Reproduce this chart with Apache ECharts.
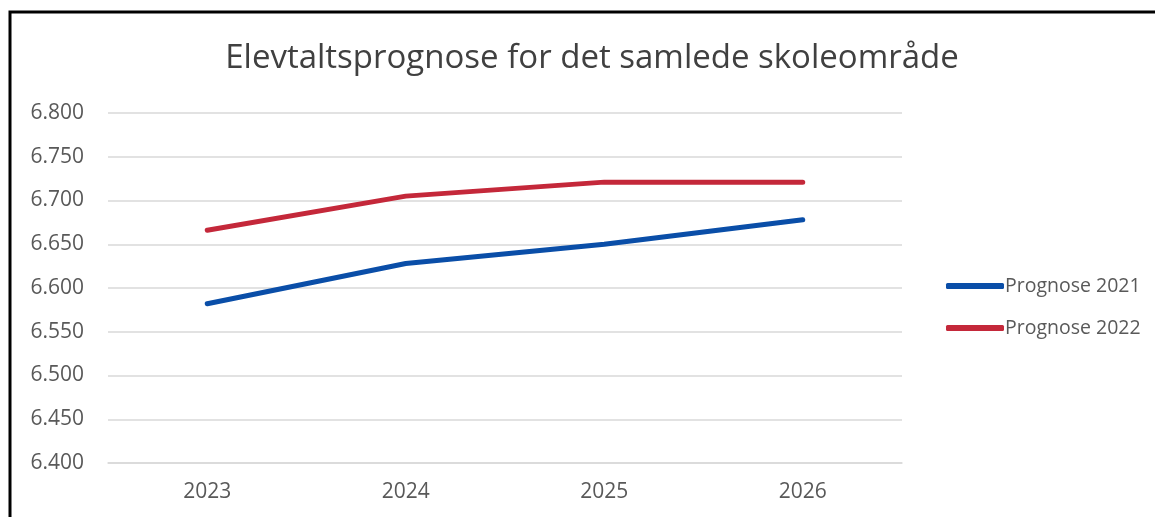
<!DOCTYPE html>
<html><head><meta charset="utf-8">
<script src="https://cdn.jsdelivr.net/npm/echarts@6/dist/echarts.min.js"></script>
<style>html,body{margin:0;padding:0;background:#fff}#c{width:1155px;height:517px}</style>
</head><body><div id="c"></div>
<script>
const categories = ['2023', '2024', '2025', '2026'];
const prognose2021 = [6582, 6628, 6650, 6678];
const prognose2022 = [6666, 6705, 6721, 6721];
const seriesNames = ['Prognose 2021', 'Prognose 2022'];
const titleText = 'Elevtaltsprognose for det samlede skoleområde';

const fmt = v => { const s = String(Math.round(v)); return s.slice(0, s.length - 3) + '.' + s.slice(-3); };
const font = 'Open Sans, Noto Sans, sans-serif';
const chart = echarts.init(document.getElementById('c'), null, {renderer: 'canvas'});
chart.setOption({
  animation: false,
  backgroundColor: '#fff',
  graphic: [{type: 'rect', shape: {x: 10, y: 12, width: 1300, height: 700}, style: {fill: 'none', stroke: '#000', lineWidth: 3}, z: 100}],
  title: {text: titleText, left: 587, textAlign: 'center', top: 37,
    textStyle: {fontFamily: font, fontSize: 33, fontWeight: 'normal', color: '#404040'}},
  legend: {orient: 'vertical', left: 941, top: 271, itemGap: 22, itemWidth: 58, itemHeight: 6,
    icon: 'roundRect',
    textStyle: {fontFamily: font, fontSize: 19.5, color: '#595959', padding: [0, 0, 0, -4]},
    data: seriesNames},
  grid: {left: 108, right: 253, top: 113, bottom: 54, containLabel: false},
  xAxis: {type: 'category', data: categories, boundaryGap: true,
    axisLine: {show: true, lineStyle: {color: '#d9d9d9', width: 1.5}}, axisTick: {show: false},
    axisLabel: {fontFamily: font, fontSize: 21, color: '#595959', margin: 19}},
  yAxis: {type: 'value', min: 6400, max: 6800, interval: 50,
    axisLine: {show: false}, axisTick: {show: false},
    splitLine: {lineStyle: {color: '#d9d9d9', width: 1.5}},
    axisLabel: {fontFamily: font, fontSize: 21, color: '#595959', margin: 24, formatter: fmt}},
  series: [
    {name: seriesNames[0], type: 'line', data: prognose2021, symbol: 'none',
      lineStyle: {color: '#0a4ea8', width: 5, cap: 'round', join: 'round'}, itemStyle: {color: '#0a4ea8'}},
    {name: seriesNames[1], type: 'line', data: prognose2022, symbol: 'none',
      lineStyle: {color: '#c4283a', width: 5, cap: 'round', join: 'round'}, itemStyle: {color: '#c4283a'}}
  ]
});
</script></body></html>
